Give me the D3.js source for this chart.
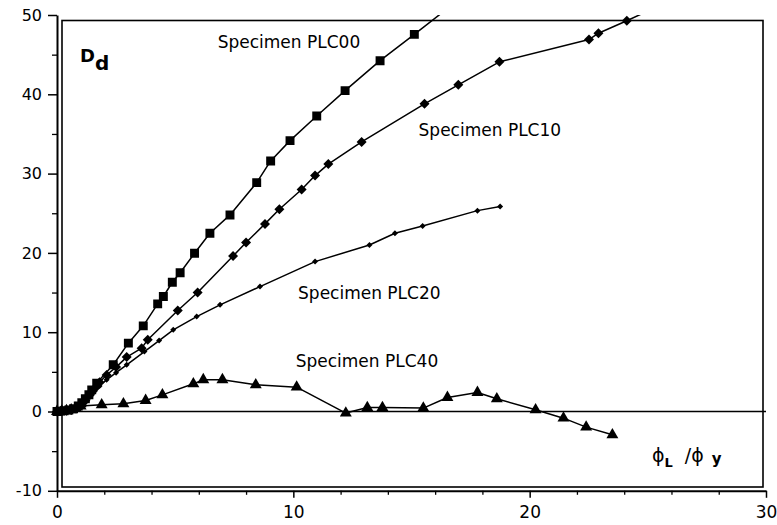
<!DOCTYPE html>
<html>
<head>
<meta charset="utf-8">
<script src="https://cdn.jsdelivr.net/npm/d3@7"></script>
<style>
  html, body { margin: 0; padding: 0; background: #fff; }
  svg { display: block; }
  text { font-family: "DejaVu Sans", Verdana, sans-serif; fill: #000; }
</style>
</head>
<body>
<svg id="chart" width="777" height="525"></svg>
<script>
// Damage index D_d versus ductility ratio phi_L / phi_y for four specimens
const seriesNames = ["Specimen PLC00", "Specimen PLC10", "Specimen PLC20", "Specimen PLC40"];

const plc00 = [
  [0,0],[0.15,0.05],[0.3,0.1],[0.5,0.2],[0.7,0.35],[0.9,0.7],[1.05,1.1],[1.2,1.6],
  [1.35,2.1],[1.47,2.73],[1.68,3.58],[2.38,5.89],[3.02,8.62],[3.65,10.8],[4.26,13.57],
  [4.5,14.5],[4.88,16.3],[5.21,17.5],[5.82,19.95],[6.47,22.48],[7.32,24.79],[8.45,28.86],
  [9.04,31.6],[9.86,34.16],[10.99,37.27],[12.19,40.46],[13.67,44.24],[15.12,47.56],[16.6,51.0]
];
const plc10 = [
  [0,0],[0.2,0.05],[0.4,0.1],[0.6,0.2],[0.8,0.4],[1.0,0.8],[1.2,1.4],[1.4,2.1],
  [1.6,2.9],[1.8,3.7],[2.1,4.6],[2.5,5.6],[2.95,6.86],[3.58,7.99],[3.84,9.04],[5.11,12.73],
  [5.95,15.0],[7.45,19.6],[8.0,21.3],[8.8,23.66],[9.41,25.5],[10.35,28.0],[10.92,29.75],
  [11.48,31.2],[12.89,34.0],[15.55,38.8],[16.98,41.2],[18.72,44.1],[22.51,46.9],[22.91,47.7],
  [24.11,49.28],[25.0,50.5]
];
const plc20 = [
  [0,0],[0.2,0.05],[0.4,0.1],[0.6,0.2],[0.8,0.4],[1.0,0.8],[1.2,1.3],[1.4,1.9],
  [1.6,2.6],[1.8,3.2],[2.1,4.0],[2.5,4.9],[2.95,5.89],[3.70,7.56],[4.32,8.95],[4.92,10.3],
  [5.91,11.97],[6.90,13.45],[8.59,15.75],[10.92,18.9],[13.22,21.0],[14.30,22.48],
  [15.47,23.4],[17.79,25.33],[18.75,25.84]
];
const plc40 = [
  [0,0],[0.2,0.05],[0.4,0.1],[0.6,0.2],[0.8,0.4],[1.0,0.7],[1.89,0.84],[2.81,0.97],
  [3.75,1.39],[4.46,2.1],[5.77,3.49],[6.19,4.0],[7.0,4.0],[8.41,3.36],[10.14,3.07],
  [12.22,-0.2],[13.13,0.5],[13.77,0.5],[15.5,0.43],[16.52,1.77],[17.79,2.4],[18.61,1.6],
  [20.25,0.21],[21.43,-0.84],[22.39,-1.97],[23.5,-2.94]
];

const xMajorTicks = [0, 10, 20, 30];
const xMinorTicks = [2, 4, 6, 8, 12, 14, 16, 18, 22, 24, 26, 28];
const yMajorTicks = [-10, 0, 10, 20, 30, 40, 50];
const yMinorTicks = [-5, 5, 15, 25, 35, 45];

// label anchor values (in data units) for each specimen caption
const labelPos = [[6.8, 45.8], [15.3, 34.8], [10.2, 14.2], [10.1, 5.6]];

const svg = d3.select("#chart");
const x = d3.scaleLinear().domain([0, 30]).range([57, 766]);
const y = d3.scaleLinear().domain([-10, 50]).range([490.8, 15]);
const plain = d => String(d);

// inner plot frame
svg.append("rect")
  .attr("x", 62).attr("y", 20.5)
  .attr("width", 763 - 62).attr("height", 487 - 20.5)
  .attr("fill", "none").attr("stroke", "#000").attr("stroke-width", 1.6);

// zero reference line
svg.append("line")
  .attr("x1", x(0)).attr("x2", x(30))
  .attr("y1", y(0)).attr("y2", y(0))
  .attr("stroke", "#000").attr("stroke-width", 1.5);

// y axis
const yAxis = svg.append("g").attr("transform", `translate(${x(0)},0)`)
  .call(d3.axisLeft(y).tickValues(yMajorTicks).tickFormat(plain)
    .tickSize(9).tickSizeOuter(0).tickPadding(6));
yAxis.select(".domain").attr("stroke-width", 2);
yAxis.selectAll(".tick line").attr("stroke-width", 1.5);
yAxis.selectAll(".tick text").style("font-size", "16px")
  .style("font-family", '"DejaVu Sans", Verdana, sans-serif');
svg.append("g").attr("transform", `translate(${x(0)},0)`)
  .call(d3.axisLeft(y).tickValues(yMinorTicks).tickSize(5).tickFormat(""))
  .call(g => g.select(".domain").remove())
  .selectAll(".tick line").attr("stroke-width", 1.3);

// x axis
const xAxis = svg.append("g").attr("transform", `translate(0,${y(-10)})`)
  .call(d3.axisBottom(x).tickValues(xMajorTicks).tickFormat(plain)
    .tickSize(7).tickSizeOuter(0).tickPadding(8));
xAxis.select(".domain").attr("stroke-width", 2);
xAxis.selectAll(".tick line").attr("stroke-width", 1.5);
xAxis.selectAll(".tick text").style("font-size", "17px")
  .style("font-family", '"DejaVu Sans", Verdana, sans-serif');
svg.append("g").attr("transform", `translate(0,${y(-10)})`)
  .call(d3.axisBottom(x).tickValues(xMinorTicks).tickSize(4).tickFormat(""))
  .call(g => g.select(".domain").remove())
  .selectAll(".tick line").attr("stroke-width", 1.3);

// clip lines at the top of the value range
svg.append("clipPath").attr("id", "plotClip")
  .append("rect").attr("x", x(0) - 6).attr("y", y(50))
  .attr("width", x(30) - x(0) + 6).attr("height", y(-10) - y(50));

const line = d3.line().x(d => x(d[0])).y(d => y(d[1]));
const series = [plc00, plc10, plc20, plc40];
const plot = svg.append("g").attr("clip-path", "url(#plotClip)");

series.forEach(data => {
  plot.append("path").datum(data)
    .attr("d", line)
    .attr("fill", "none").attr("stroke", "#000").attr("stroke-width", 1.5)
    .attr("stroke-linejoin", "round");
});

const inRange = d => d[1] <= 50;
// squares, large diamonds (squares turned 45 degrees), small diamonds, triangles
const markers = [
  { sym: d3.symbol().type(d3.symbolSquare).size(80), rot: 0 },
  { sym: d3.symbol().type(d3.symbolSquare).size(50), rot: 45 },
  { sym: d3.symbol().type(d3.symbolSquare).size(18), rot: 45 },
  { sym: d3.symbol().type(d3.symbolTriangle).size(62), rot: 0 }
];
series.forEach((data, i) => {
  plot.append("g").selectAll("path")
    .data(data.filter(inRange))
    .join("path")
    .attr("transform", d => `translate(${x(d[0])},${y(d[1])}) rotate(${markers[i].rot})`)
    .attr("d", markers[i].sym)
    .attr("fill", "#000");
});

// specimen captions
svg.append("g").selectAll("text")
  .data(seriesNames)
  .join("text")
  .attr("x", (d, i) => x(labelPos[i][0]))
  .attr("y", (d, i) => y(labelPos[i][1]))
  .style("font-size", "17px")
  .text(d => d);

// D_d symbol
const dd = svg.append("text").attr("x", 80).attr("y", 62)
  .style("font-weight", "bold").style("font-size", "18px");
dd.append("tspan").text("D");
dd.append("tspan").attr("dy", 8).style("font-size", "20px").text("d");

// horizontal axis caption
const ax = svg.append("text").attr("x", 652).attr("y", 462).style("font-size", "19px");
ax.append("tspan").text("\u03D5");
ax.append("tspan").attr("dy", 5).style("font-weight", "bold").style("font-size", "13px").text("L");
ax.append("tspan").attr("dx", 12).attr("dy", -5).text("/\u03D5");
ax.append("tspan").attr("dx", 8).attr("dy", 2).style("font-weight", "bold").style("font-size", "15px").text("y");
</script>
</body>
</html>
